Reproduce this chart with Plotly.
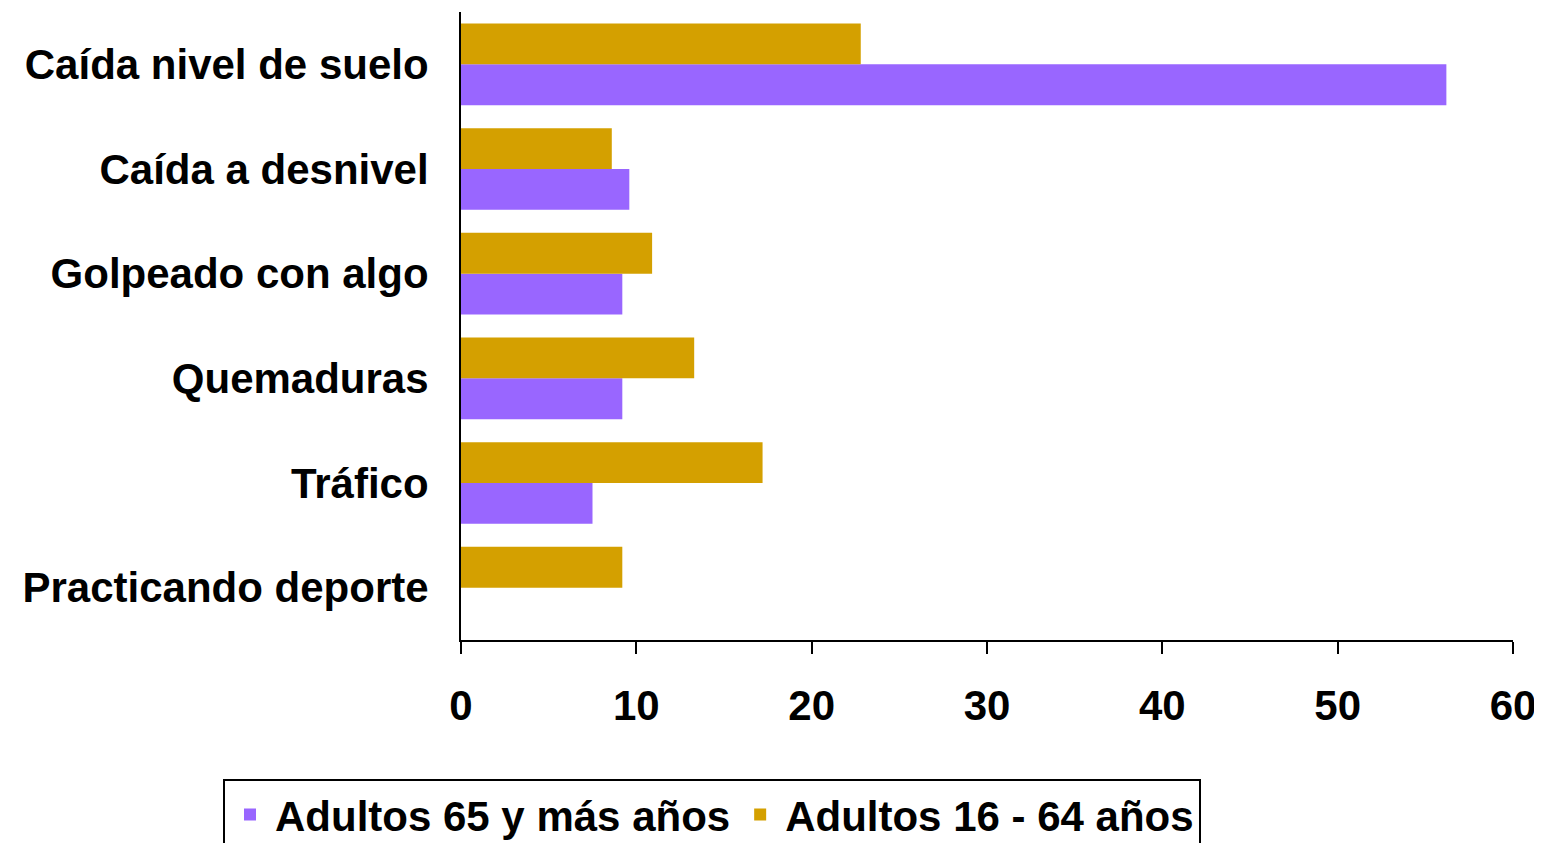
import plotly.graph_objects as go

categories = ["Caída nivel de suelo", "Caída a desnivel", "Golpeado con algo",
              "Quemaduras", "Tráfico", "Practicando deporte"]
adultos_65 = [56.2, 9.6, 9.2, 9.2, 7.5, 0]
adultos_16_64 = [22.8, 8.6, 10.9, 13.3, 17.2, 9.2]
x_ticks = [0, 10, 20, 30, 40, 50, 60]

# Plotly draws the first category at the bottom: reverse so the first is on top
cats_r = categories[::-1]
a65_r = adultos_65[::-1]
a16_r = adultos_16_64[::-1]

FONT = "Arial, Liberation Sans, sans-serif"
FS = 42

fig = go.Figure()
fig.add_trace(go.Bar(y=cats_r, x=a65_r, orientation="h", name="Adultos 65 y más años",
                     marker=dict(color="#9966FF", line=dict(width=0))))
fig.add_trace(go.Bar(y=cats_r, x=a16_r, orientation="h", name="Adultos 16 - 64 años",
                     marker=dict(color="#D4A000", line=dict(width=0))))

fig.update_layout(
    width=1542, height=843,
    margin=dict(l=453, r=37, t=4, b=211, autoexpand=False),
    paper_bgcolor="white", plot_bgcolor="white",
    barmode="group", bargap=0.22, bargroupgap=0,
    font=dict(family=FONT, size=FS, color="black", weight="bold"),
    showlegend=True,
    legend=dict(orientation="h", x=0.2386, xanchor="center", y=-0.221, yanchor="top",
                bordercolor="black", borderwidth=2, bgcolor="white", itemwidth=40,
                font=dict(family=FONT, size=FS, color="black", weight="bold"),
                traceorder="normal"),
    xaxis=dict(range=[0, 60], tickvals=x_ticks, ticks="outside", ticklen=12, tickwidth=2,
               tickcolor="black", showline=True, linecolor="black", linewidth=2,
               showgrid=False, zeroline=False, ticklabelstandoff=16,
               tickfont=dict(family=FONT, size=FS, color="black", weight="bold")),
    yaxis=dict(showline=True, linecolor="black", linewidth=2, ticks="", showgrid=False,
               ticklabelstandoff=22,
               tickfont=dict(family=FONT, size=FS, color="black", weight="bold")),
)

fig.write_html("out.html")
